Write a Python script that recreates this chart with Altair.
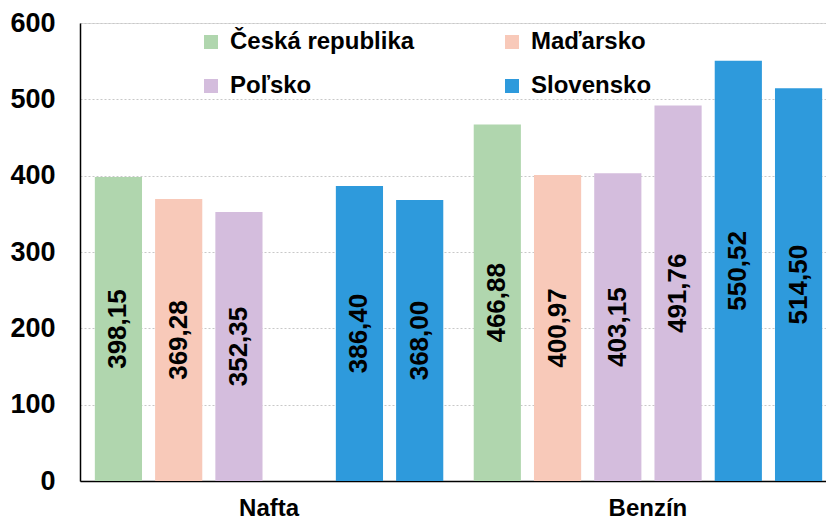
import altair as alt
import pandas as pd

fuels = ["Nafta", "Benzín"]
slots = ["s1", "s2", "s3", "s4", "s5", "s6"]
slot_country = ["Česká republika", "Maďarsko", "Poľsko", "Poľsko", "Slovensko", "Slovensko"]
nafta = [398.15, 369.28, 352.35, None, 386.40, 368.00]
benzin = [466.88, 400.97, 403.15, 491.76, 550.52, 514.50]

# legend is laid out column by column: col 1 = ČR, Poľsko ; col 2 = Maďarsko, Slovensko
countries = ["Česká republika", "Poľsko", "Maďarsko", "Slovensko"]
colors = ["#b0d6ae", "#d4bddd", "#f8c9b9", "#2e9adc"]

rows = []
for fuel, vals in zip(fuels, [nafta, benzin]):
    for slot, country, v in zip(slots, slot_country, vals):
        if v is None:
            continue
        rows.append({"fuel": fuel, "slot": slot, "country": country,
                     "value": v, "label": f"{v:.2f}".replace(".", ",")})
df = pd.DataFrame(rows)

FONT = "Liberation Sans"

x_enc = alt.X("fuel:N", sort=fuels,
              scale=alt.Scale(domain=fuels, paddingInner=0.046, paddingOuter=0.022, range=[0, 757]),
              axis=alt.Axis(title=None, labelAngle=0, ticks=False, labelPadding=15,
                            labelFontSize=24, labelFont=FONT, labelFontWeight="bold",
                            labelColor="black", domainColor="black", domainWidth=1.5, grid=False))
xo_enc = alt.XOffset("slot:N", scale=alt.Scale(domain=slots, paddingInner=0.217, paddingOuter=0.108))

base = alt.Chart(df)

bars = base.mark_bar().encode(
    x=x_enc,
    xOffset=xo_enc,
    y=alt.Y("value:Q", scale=alt.Scale(domain=[0, 600], nice=False),
            axis=alt.Axis(title=None, values=[0, 100, 200, 300, 400, 500, 600], ticks=False,
                          labelPadding=25, labelFontSize=27, labelFont=FONT, labelFontWeight="bold",
                          labelColor="black", domainColor="black", domainWidth=1.5,
                          grid=True, gridColor="#c8c8c8", gridDash=[2, 2], gridWidth=1)),
    color=alt.Color("country:N", scale=alt.Scale(domain=countries, range=colors),
                    legend=alt.Legend(title=None, orient="none", legendX=119, legendY=7,
                                      columns=2, columnPadding=85, rowPadding=20,
                                      symbolType="square", symbolSize=196, symbolStrokeWidth=0,
                                      labelFontSize=24, labelFont=FONT, labelFontWeight="bold",
                                      labelColor="black", labelOffset=7, labelLimit=400,
                                      padding=0)),
)

texts = base.transform_calculate(mid="datum.value / 2").mark_text(
    angle=270, align="center", baseline="middle", fontSize=26, font=FONT,
    fontWeight="bold", color="black"
).encode(
    x=alt.X("fuel:N", sort=fuels),
    xOffset=alt.XOffset("slot:N"),
    y=alt.Y("mid:Q"),
    text="label:N",
)

chart = (bars + texts).properties(
    width=746, height=458,
    autosize=alt.AutoSizeParams(type="none"),
    padding={"left": 72, "top": 15, "right": 0, "bottom": 39},
).configure_view(stroke=None).configure(font=FONT)

chart.save("out.html", embed_options={"renderer": "svg", "actions": False})
